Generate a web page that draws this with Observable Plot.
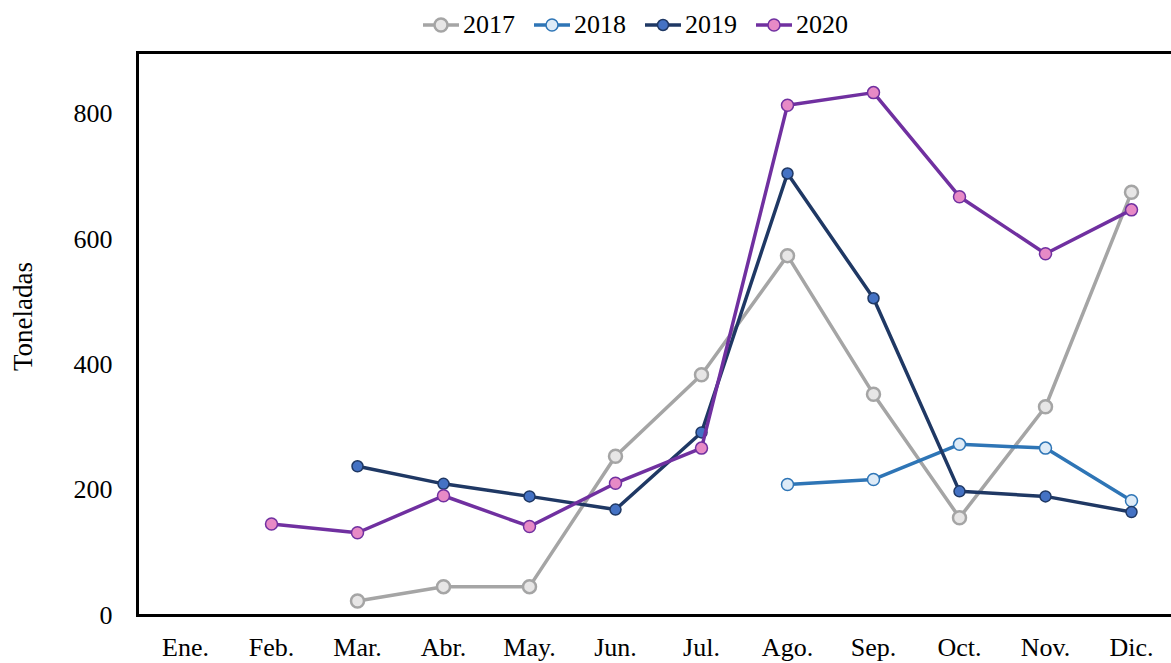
<!DOCTYPE html>
<html><head><meta charset="utf-8">
<script src="https://cdn.jsdelivr.net/npm/d3@7"></script>
<script src="https://cdn.jsdelivr.net/npm/@observablehq/plot@0.6"></script>
<style>
body{margin:0;background:#fff;overflow:hidden;font-family:"Liberation Serif",serif;}
#legend{height:50px;display:flex;align-items:center;padding-left:423px;box-sizing:border-box;font-size:26px;color:#000}
.item{display:flex;align-items:center;margin-right:19px}
.item svg{margin-right:4px}
</style></head><body>
<div id="legend"></div><div id="chart"></div>
<script>
const months = ["Ene.","Feb.","Mar.","Abr.","May.","Jun.","Jul.","Ago.","Sep.","Oct.","Nov.","Dic."];
const years = ["2017","2018","2019","2020"];
const v2017 = [null,null,23,46,46,254,384,574,353,156,333,675];
const v2018 = [null,null,null,null,null,null,null,209,217,273,267,183];
const v2019 = [null,null,238,210,190,169,292,705,506,198,190,165];
const v2020 = [null,146,132,191,142,211,267,814,834,668,577,647];
const seriesValues = [v2017, v2018, v2019, v2020];
const lineColors = ["#A5A5A5","#2E75B6","#1F3864","#7030A0"];
const markerFills = ["#E7E6E6","#DEEBF7","#4472C4","#E78AC6"];
const markerStrokeWidths = [2.5,1.5,1.5,1.5];
const markerRadii = [6.5,6,5.5,6];
const yTicks = [0,200,400,600,800];
const yLabel = "Toneladas";

// legend
const legend = document.getElementById("legend");
years.forEach((y,i)=>{
  const it = document.createElement("div"); it.className="item";
  it.innerHTML = `<svg width="36" height="16"><line x1="0" y1="8" x2="36" y2="8" stroke="${lineColors[i]}" stroke-width="3.5"/><circle cx="18" cy="8" r="${markerRadii[i]}" fill="${markerFills[i]}" stroke="${lineColors[i]}" stroke-width="${markerStrokeWidths[i]}"/></svg><span>${y}</span>`;
  legend.appendChild(it);
});

const marks = [];
years.forEach((yr,i)=>{
  const rows = months.map((m,j)=>({month:m, value:seriesValues[i][j]})).filter(d=>d.value!=null);
  marks.push(Plot.line(rows,{x:"month",y:"value",stroke:lineColors[i],strokeWidth:3.5}));
  marks.push(Plot.dot(rows,{x:"month",y:"value",r:markerRadii[i],fill:markerFills[i],stroke:lineColors[i],strokeWidth:markerStrokeWidths[i]}));
});

const chart = Plot.plot({
  width:1171, height:613,
  marginLeft:137, marginRight:-8, marginTop:2, marginBottom:48,
  style:{fontFamily:'"Liberation Serif", serif', fontSize:"26px", color:"#000", background:"#fff"},
  x:{type:"point", domain:months, padding:0.5},
  y:{domain:[0,898]},
  marks:[
    Plot.axisY({ticks:yTicks, tickSize:0, tickPadding:25, label:null}),
    Plot.axisX({tickSize:0, tickPadding:22.5, label:null}),
    Plot.text([yLabel],{frameAnchor:"left", textAnchor:"middle", dx:-114.5, dy:-17.5, rotate:-90, fontSize:27}),
    ...marks,
    Plot.frame({stroke:"#000", strokeWidth:3})
  ]
});
document.getElementById("chart").appendChild(chart);
</script>
</body></html>
